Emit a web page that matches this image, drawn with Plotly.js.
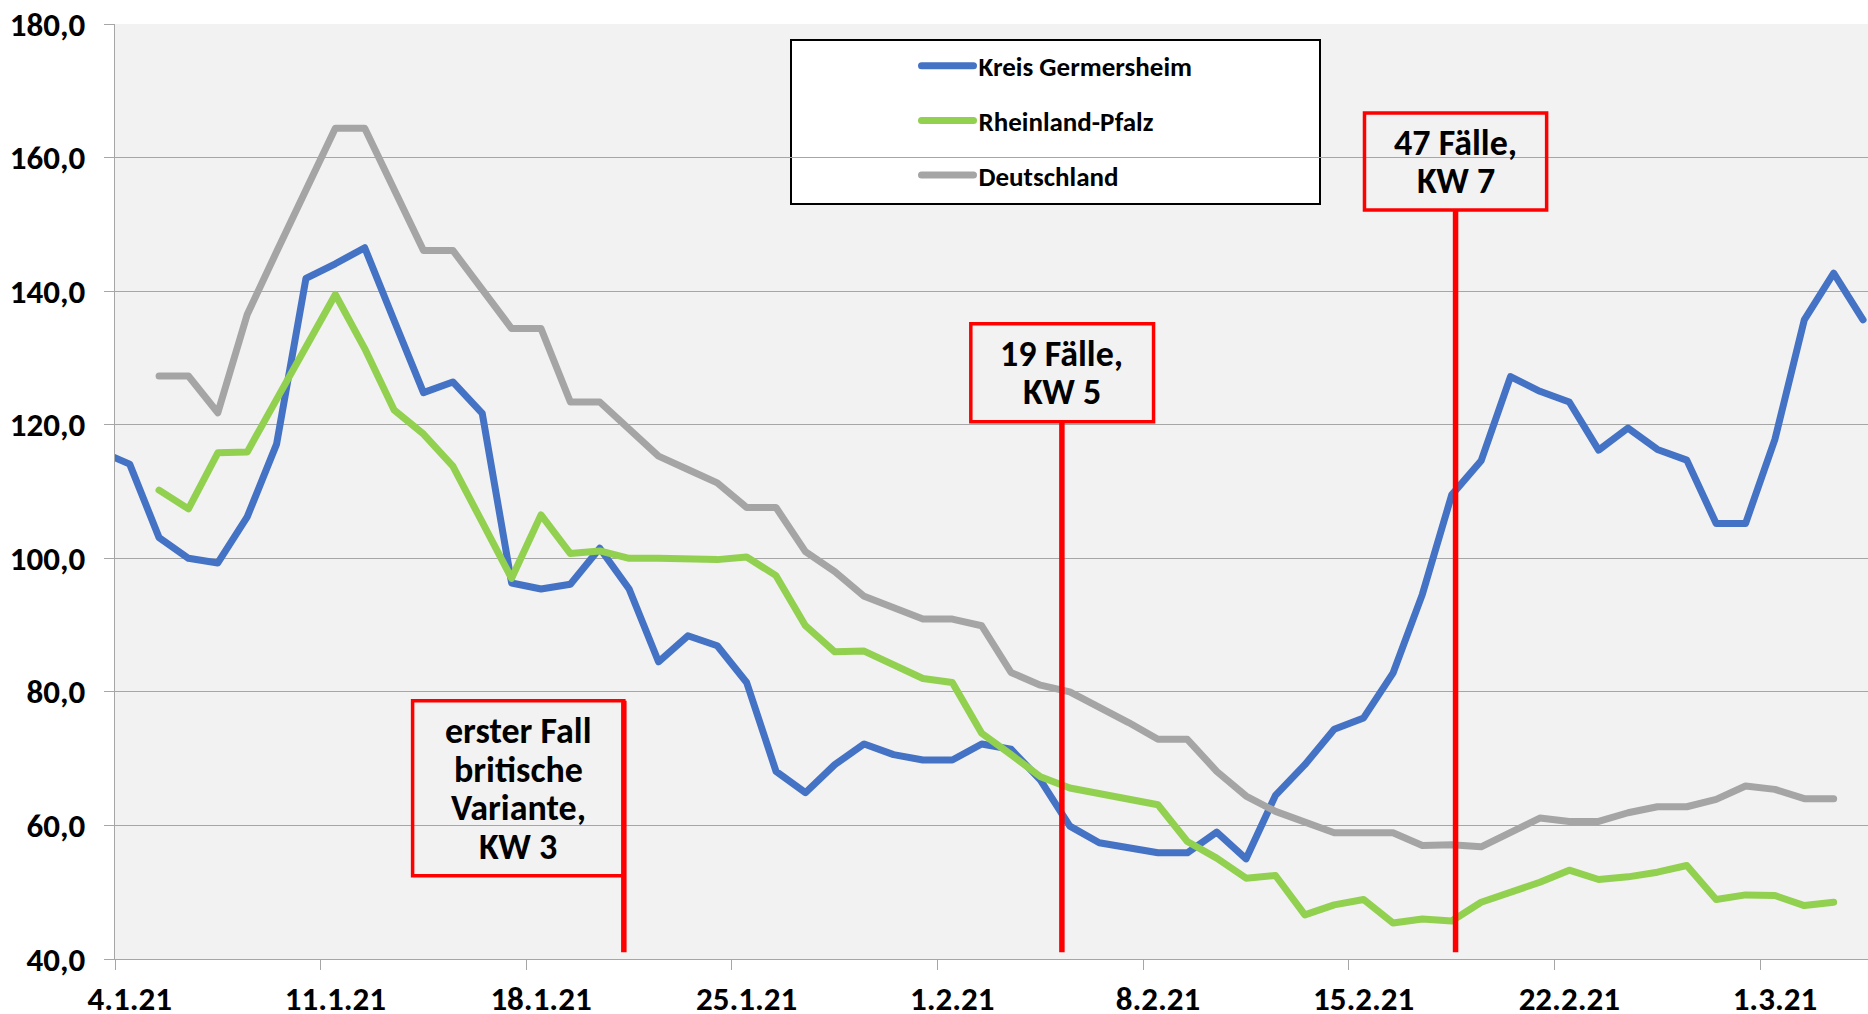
<!DOCTYPE html>
<html>
<head>
<meta charset="utf-8">
<script src="https://cdn.plot.ly/plotly-3.0.1.min.js"></script>
<style>
  html, body { margin: 0; padding: 0; background: #ffffff; }
  #chart { width: 1868px; height: 1014px; }
  .js-line { stroke-linejoin: round; stroke-linecap: round; }
</style>
</head>
<body>
<div id="chart"></div>
<script>
// Days (category labels), 3.1.21 .. 4.3.21
const dates = [
  '3.1.21','4.1.21','5.1.21','6.1.21','7.1.21','8.1.21','9.1.21','10.1.21','11.1.21','12.1.21',
  '13.1.21','14.1.21','15.1.21','16.1.21','17.1.21','18.1.21','19.1.21','20.1.21','21.1.21','22.1.21',
  '23.1.21','24.1.21','25.1.21','26.1.21','27.1.21','28.1.21','29.1.21','30.1.21','31.1.21','1.2.21',
  '2.2.21','3.2.21','4.2.21','5.2.21','6.2.21','7.2.21','8.2.21','9.2.21','10.2.21','11.2.21',
  '12.2.21','13.2.21','14.2.21','15.2.21','16.2.21','17.2.21','18.2.21','19.2.21','20.2.21','21.2.21',
  '22.2.21','23.2.21','24.2.21','25.2.21','26.2.21','27.2.21','28.2.21','1.3.21','2.3.21','3.3.21',
  '4.3.21'
];

const seriesNames = ['Kreis Germersheim', 'Rheinland-Pfalz', 'Deutschland'];

const kreisGermersheim = [
  116.0, 114.1, 103.1, 100.0, 99.3, 106.2, 117.1, 141.9, 144.1, 146.5,
  135.6, 124.8, 126.4, 121.7, 96.3, 95.4, 96.1, 101.5, 95.4, 84.5,
  88.4, 86.9, 81.4, 68.1, 64.9, 69.1, 72.2, 70.6, 69.8, 69.8,
  72.2, 71.4, 66.8, 59.9, 57.4, 56.6, 55.9, 55.9, 59.0, 55.0,
  64.5, 69.1, 74.4, 76.1, 82.8, 94.6, 109.5, 114.6, 127.2, 125.0,
  123.4, 116.2, 119.5, 116.3, 114.7, 105.2, 105.2, 117.8, 135.7, 142.7,
  135.7
];

const rheinlandPfalz = [
  null, null, 110.2, 107.4, 115.8, 115.9, 123.8, 131.6, 139.5, 131.4,
  122.2, 118.6, 113.8, 105.4, 97.0, 106.5, 100.7, 101.1, 100.0, 100.0,
  99.9, 99.8, 100.2, 97.4, 89.9, 86.0, 86.1, 84.0, 82.0, 81.4,
  73.8, 70.6, 67.3, 65.6, 64.8, 64.0, 63.1, 57.6, 55.1, 52.1,
  52.5, 46.6, 48.1, 48.9, 45.4, 46.0, 45.7, 48.5, 50.0, 51.5,
  53.3, 51.9, 52.3, 53.0, 54.0, 48.9, 49.6, 49.5, 48.0, 48.5,
  null
];

const deutschland = [
  null, null, 127.3, 127.3, 121.8, 136.5, 145.9, 155.1, 164.4, 164.4,
  155.2, 146.1, 146.1, 140.2, 134.4, 134.4, 123.4, 123.4, 119.2, 115.3,
  113.3, 111.3, 107.6, 107.6, 101.0, 98.0, 94.3, 92.5, 90.9, 90.9,
  89.9, 82.9, 81.0, 80.0, 77.8, 75.4, 72.9, 72.9, 68.1, 64.4,
  62.1, 60.5, 58.9, 58.9, 58.9, 57.0, 57.1, 56.8, 58.9, 61.1,
  60.6, 60.6, 61.9, 62.8, 62.8, 63.9, 65.9, 65.4, 64.0, 64.0,
  null
];

const tickLabels = ['4.1.21','11.1.21','18.1.21','25.1.21','1.2.21','8.2.21','15.2.21','22.2.21','1.3.21'];

const noteLines = [
  ['erster Fall', 'britische', 'Variante,', 'KW 3'],
  ['19 Fälle,', 'KW 5'],
  ['47 Fälle,', 'KW 7']
];

const COLORS = ['#4472C4', '#92D050', '#A5A5A5'];
const FONT = 'Carlito, Calibri, Lato, sans-serif';

const xIdx = dates.map((d, i) => i);
const allSeries = [kreisGermersheim, rheinlandPfalz, deutschland];

const traces = allSeries.map((vals, k) => ({
  type: 'scatter',
  mode: 'lines',
  name: seriesNames[k],
  legendgroup: 'g' + k,
  x: xIdx,
  y: vals,
  connectgaps: false,
  line: { color: COLORS[k], width: 7 },
  hoverinfo: 'x+y+name'
}));

const W = 1868, H = 1014;
const M = { l: 115, r: 0, t: 24, b: 55 };
const plotW = W - M.l - M.r;
const plotH = H - M.t - M.b;
const dayPx = 29.379;
const xStart = 0.5;
const xEnd = xStart + plotW / dayPx;

// labels sit on the day, tick marks on the boundary before it
const labelVals = tickLabels.map(l => dates.indexOf(l));
const boundaryVals = labelVals.map(v => v - 0.5);

// note boxes: frame (x0,x1,y0,y1), text centre, marker line
const boxes = [
  { x0: 10.63, x1: 17.82, y0: 52.47, y1: 78.67, tx: 14.22, ty: 65.45, step: 5.8, lineX: 17.82, lineTop: 78.67 },
  { x0: 29.63, x1: 35.85, y0: 120.43, y1: 135.10, tx: 32.73, ty: 127.76, step: 5.7, lineX: 32.73, lineTop: 120.43 },
  { x0: 43.03, x1: 49.23, y0: 152.16, y1: 166.68, tx: 46.13, ty: 159.3, step: 5.7, lineX: 46.13, lineTop: 152.16 }
];

const annotations = [];
boxes.forEach((b, i) => {
  const lines = noteLines[i];
  const n = lines.length;
  lines.forEach((t, j) => {
    annotations.push({
      xref: 'x', yref: 'y',
      x: b.tx, y: b.ty + ((n - 1) / 2 - j) * b.step,
      xanchor: 'center', yanchor: 'middle',
      text: t, showarrow: false,
      font: { family: FONT, size: 36, color: '#000000', weight: 'bold' }
    });
  });
});

const shapes = [];
boxes.forEach(b => {
  shapes.push({
    type: 'rect', xref: 'x', yref: 'y',
    x0: b.x0, x1: b.x1, y0: b.y0, y1: b.y1,
    line: { color: '#FF0000', width: 3.5 },
    fillcolor: 'rgba(0,0,0,0)', layer: 'above'
  });
  shapes.push({
    type: 'line', xref: 'x', yref: 'y',
    x0: b.lineX, x1: b.lineX, y0: b.lineTop, y1: 41.0,
    line: { color: '#FF0000', width: 5.5 },
    layer: 'above'
  });
});

// legend frame
shapes.push({
  type: 'rect', xref: 'paper', yref: 'paper',
  x0: (791 - M.l) / plotW, x1: (1320 - M.l) / plotW,
  y0: (959 - 204) / plotH, y1: (959 - 40) / plotH,
  line: { color: '#000000', width: 2 },
  fillcolor: '#FFFFFF',
  layer: 'below'
});

const layout = {
  width: W, height: H,
  margin: M,
  paper_bgcolor: '#FFFFFF',
  plot_bgcolor: '#F2F2F2',
  separators: ',.',
  showlegend: true,
  legend: {
    x: (916.5 - M.l) / plotW, xanchor: 'left',
    y: 0.981, yanchor: 'top',
    bgcolor: 'rgba(0,0,0,0)',
    borderwidth: 0,
    itemwidth: 52,
    traceorder: 'grouped',
    tracegroupgap: 16.5,
    font: { family: FONT, size: 27, color: '#000000', weight: 'bold' }
  },
  xaxis: {
    type: 'linear',
    range: [xStart, xEnd],
    tickmode: 'array',
    tickvals: labelVals,
    ticktext: tickLabels,
    ticks: '',
    ticklabelstandoff: 10,
    minor: {
      tickmode: 'array',
      tickvals: boundaryVals,
      ticks: 'outside', ticklen: 10, tickwidth: 1.3, tickcolor: '#A6A6A6',
      showgrid: false
    },
    showline: true, linecolor: '#A6A6A6', linewidth: 1.3,
    showgrid: false, zeroline: false,
    tickfont: { family: FONT, size: 33, color: '#000000', weight: 'bold' }
  },
  yaxis: {
    range: [40, 180],
    tickmode: 'linear', tick0: 40, dtick: 20,
    tickformat: '.1f',
    ticks: 'outside', ticklen: 10, tickwidth: 1.3, tickcolor: '#A6A6A6',
    ticklabelstandoff: 12,
    showline: true, linecolor: '#A6A6A6', linewidth: 1.3,
    showgrid: true, gridcolor: '#A6A6A6', gridwidth: 1.3,
    zeroline: false,
    tickfont: { family: FONT, size: 33, color: '#000000', weight: 'bold' }
  },
  annotations: annotations,
  shapes: shapes
};

Plotly.newPlot('chart', traces, layout, { displayModeBar: false, responsive: false });
</script>
</body>
</html>
